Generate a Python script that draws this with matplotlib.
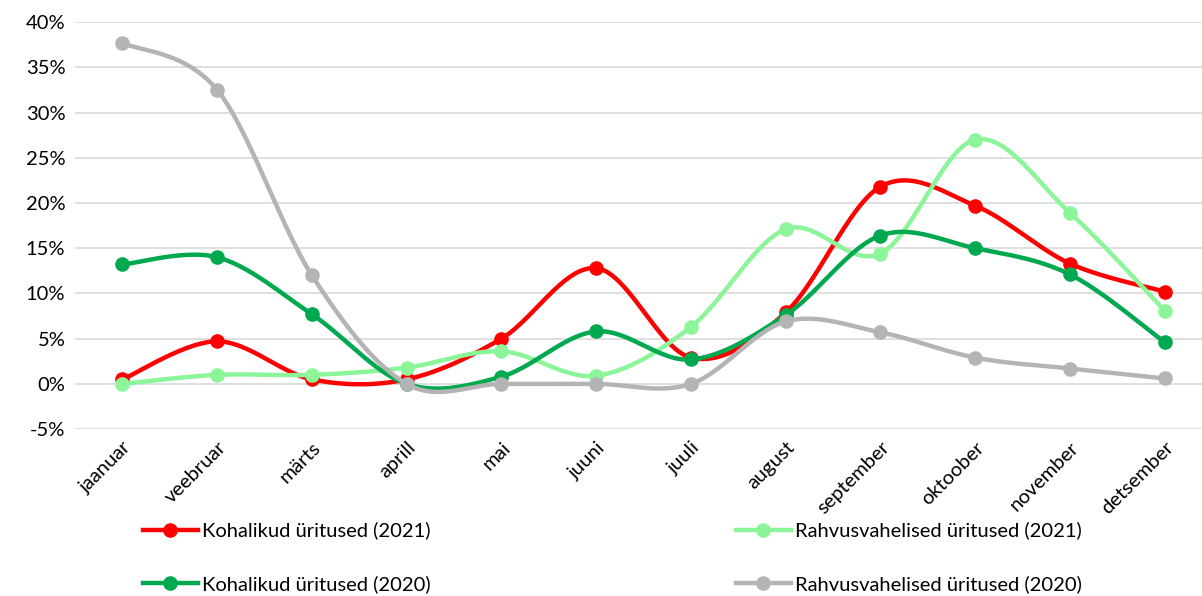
import numpy as np
import matplotlib.pyplot as plt
from matplotlib.ticker import PercentFormatter

months = ['jaanuar', 'veebruar', 'märts', 'aprill', 'mai', 'juuni',
          'juuli', 'august', 'september', 'oktoober', 'november', 'detsember']

kohalikud_2021 = [0.5, 4.7, 0.5, 0.5, 5.0, 12.8, 2.9, 7.9, 21.8, 19.7, 13.3, 10.2]
rahvusvahelised_2021 = [0.0, 1.0, 1.0, 1.8, 3.6, 0.9, 6.3, 17.1, 14.4, 27.0, 18.9, 8.1]
kohalikud_2020 = [13.2, 14.0, 7.7, 0.0, 0.8, 5.8, 2.7, 7.6, 16.4, 15.0, 12.1, 4.6]
rahvusvahelised_2020 = [37.7, 32.5, 12.0, 0.0, 0.0, 0.0, 0.0, 6.9, 5.7, 2.9, 1.7, 0.6]

series = [
    ('Kohalikud üritused (2021)', kohalikud_2021, '#FF0000', 3),
    ('Rahvusvahelised üritused (2021)', rahvusvahelised_2021, '#8CF59A', 4),
    ('Kohalikud üritused (2020)', kohalikud_2020, '#00A84F', 5),
    ('Rahvusvahelised üritused (2020)', rahvusvahelised_2020, '#B4B4B4', 6),
]


def smooth(y, n=30):
    """Excel-like smoothed line (Catmull-Rom bezier segments)."""
    x = np.arange(len(y), dtype=float)
    y = np.asarray(y, dtype=float)
    px = np.concatenate([[x[0]], x, [x[-1]]])
    py = np.concatenate([[y[0]], y, [y[-1]]])
    xs, ys = [], []
    t = np.linspace(0, 1, n)
    for i in range(1, len(px) - 2):
        p0 = np.array([px[i], py[i]])
        p3 = np.array([px[i + 1], py[i + 1]])
        c1 = p0 + (p3 - np.array([px[i - 1], py[i - 1]])) / 6
        c2 = p3 - (np.array([px[i + 2], py[i + 2]]) - p0) / 6
        b = ((1 - t) ** 3)[:, None] * p0 + (3 * (1 - t) ** 2 * t)[:, None] * c1 \
            + (3 * (1 - t) * t ** 2)[:, None] * c2 + (t ** 3)[:, None] * p3
        xs.extend(b[:, 0])
        ys.extend(b[:, 1])
    return np.array(xs), np.array(ys)


plt.rcParams['font.family'] = ['Lato', 'DejaVu Sans']
plt.rcParams['axes.unicode_minus'] = False

fig = plt.figure(figsize=(12.02, 5.96), dpi=100)
ax = fig.add_axes([0.0624, 0.280, 0.946, 0.683])

x = np.arange(len(months))
handles = {}
for name, vals, color, z in series:
    sx, sy = smooth(vals)
    ax.plot(sx, sy, color=color, lw=3.2, zorder=z, solid_capstyle='round')
    ax.plot(x, vals, 'o', color=color, ms=9.5, zorder=z)
    handles[name] = ax.plot([], [], '-o', color=color, lw=3.2, ms=9.5)[0]

ax.set_xlim(-0.5, 11.5)
ax.set_ylim(-5, 40)
ax.set_yticks(np.arange(-5, 41, 5))
ax.yaxis.set_major_formatter(PercentFormatter(decimals=0))
ax.grid(axis='y', color='#D9D9D9', lw=1.2)
ax.set_axisbelow(True)
for s in ax.spines.values():
    s.set_visible(False)
ax.tick_params(length=0, labelsize=14.5, pad=7)
ax.set_xticks(x)
ax.set_xticklabels(months, rotation=45, ha='right', rotation_mode='anchor')

order = ['Kohalikud üritused (2021)', 'Kohalikud üritused (2020)',
         'Rahvusvahelised üritused (2021)', 'Rahvusvahelised üritused (2020)']
fig.legend([handles[k] for k in order], order, ncol=2, loc='lower left',
           bbox_to_anchor=(0.104, -0.025), frameon=False, fontsize=14.5,
           handlelength=2.7, handletextpad=0.2, columnspacing=15.2,
           labelspacing=1.75)

fig.savefig('out.png', dpi=100)
